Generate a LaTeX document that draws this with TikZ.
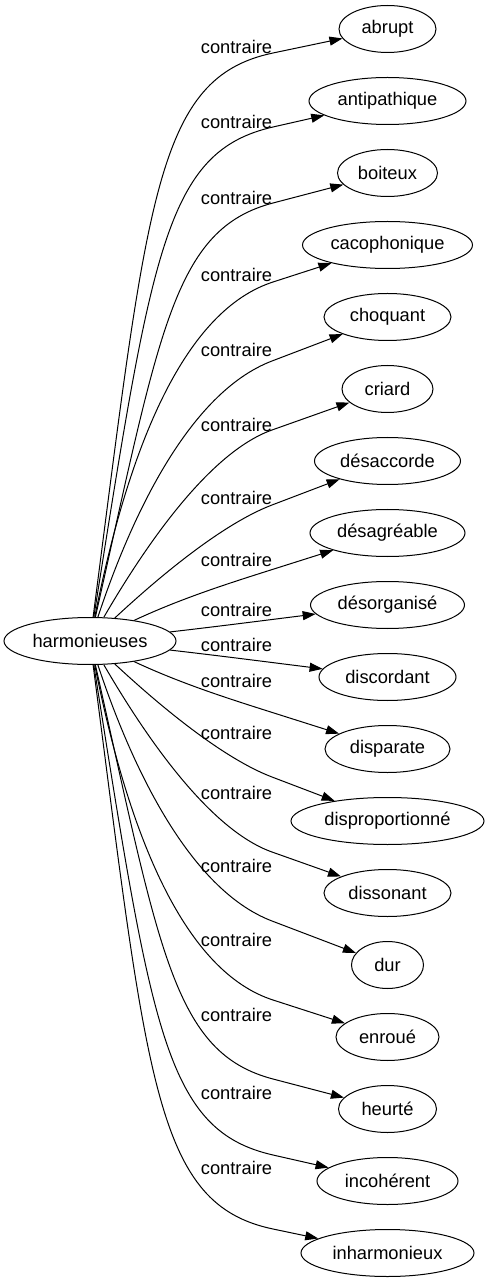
\documentclass[tikz,border=0pt]{standalone}
\usepackage{fontspec}
\setmainfont{Liberation Sans}
\usetikzlibrary{arrows.meta,shapes.geometric}

\tikzset{
  mot/.style={draw, ellipse, line width=1pt, inner sep=0pt, minimum height=47},
  etiq/.style={inner sep=0pt},
  lien/.style={line width=1pt, ->, >={Triangle[length=13pt,width=9pt]}}
}

\begin{document}
\begin{tikzpicture}[x=1pt, y=1pt, font=\fontsize{18.3}{22}\selectfont]
\useasboundingbox (-90,-642) rectangle (400,641);

\node[mot, minimum width=172] (h) at (0,0){harmonieuses};

\foreach \i/\nom/\w in {0/abrupt/97, 1/antipathique/157, 2/boiteux/100,
    3/cacophonique/170, 4/choquant/127, 5/criard/91, 6/désaccorde/146,
    7/désagréable/155, 8/désorganisé/154, 9/discordant/137, 10/disparate/125,
    11/disproportionné/193, 12/dissonant/127, 13/dur/72, 14/enroué/103,
    15/heurté/98, 16/incohérent/141, 17/inharmonieux/173}
  \node[mot, minimum width=\w] (t\i) at (297.5,612-72*\i){\nom};

\foreach \i/\y in {0/594, 1/519, 2/443, 3/366, 4/291, 5/216, 6/143, 7/81, 8/31,
    9/-4, 10/-40, 11/-92, 12/-152, 13/-225, 14/-299, 15/-374, 16/-452, 17/-527}
  \node[etiq] (l\i) at (146.5,\y){contraire};

\foreach \i/\a/\b/\c/\d/\mx/\my in {0/57.6/444/65.6/563.4/183/588,
    1/62/391/75.7/489.6/183/514, 2/70/311/83.4/411.9/183/438,
    3/40/201/96.4/331/183/359, 4/40/121/97.9/248/182/280,
    5/50/86/116.1/187.6/182/211, 6/55/51/125.9/114.6/182/136,
    7/91.4/42.7/139.1/57.8/182/71.4, 8/107.6/12.2/147.3/17.1/182/21.5}{
  \pgfmathtruncatemacro\j{17-\i}
  \coordinate (m\i) at (\mx,\my);
  \coordinate (m\j) at (\mx,-\my);
  \draw[lien] (h) .. controls (\a,\b) and (\c,\d) .. (m\i) -- (t\i);
  \draw[lien] (h) .. controls (\a,-\b) and (\c,-\d) .. (m\j) -- (t\j);
}

\end{tikzpicture}
\end{document}
